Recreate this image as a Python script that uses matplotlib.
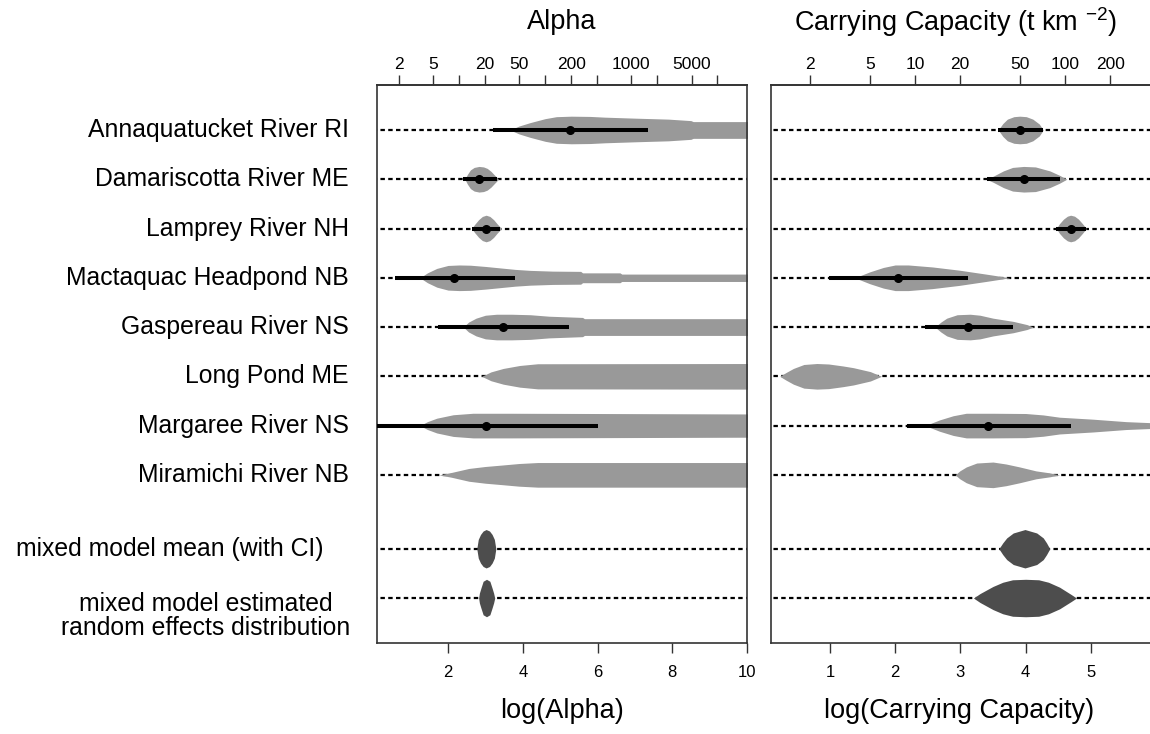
import numpy as np
import matplotlib.pyplot as plt

plt.rcParams['font.family'] = ['Liberation Sans', 'DejaVu Sans']
plt.rcParams['mathtext.fontset'] = 'custom'
plt.rcParams['mathtext.rm'] = 'Liberation Sans'
plt.rcParams['mathtext.it'] = 'Liberation Sans'

sites = ['Annaquatucket River RI', 'Damariscotta River ME', 'Lamprey River NH',
         'Mactaquac Headpond NB', 'Gaspereau River NS', 'Long Pond ME',
         'Margaree River NS', 'Miramichi River NB']
mixed_labels = ['mixed model mean (with CI)',
                'mixed model estimated\nrandom effects distribution']
row_y = [0, 1, 2, 3, 4, 5, 6, 7]
mixed_y = [8.5, 9.5]

# ---- log(Alpha) panel ----
alpha_med = [5.26, 2.83, 3.02, 2.16, 3.46, None, 3.01, None]
alpha_lo = [3.21, 2.41, 2.63, 0.58, 1.74, None, -1.0, None]
alpha_hi = [7.36, 3.31, 3.39, 3.79, 5.24, None, 6.02, None]
alpha_shape_x = [
    [3.66, 3.9, 4.2, 4.6, 4.9, 5.3, 5.8, 6.2, 7.0, 7.9, 8.5, 8.56, 10.5],
    [2.45, 2.52, 2.6, 2.7, 2.83, 2.95, 3.05, 3.15, 3.25, 3.35],
    [2.63, 2.72, 2.82, 2.92, 3.02, 3.12, 3.22, 3.32, 3.43],
    [1.25, 1.45, 1.7, 2.0, 2.3, 2.6, 3.0, 3.4, 3.8, 4.2, 4.8, 5.55, 5.6, 6.6, 6.65, 10.5],
    [2.41, 2.55, 2.75, 3.0, 3.3, 3.7, 4.2, 4.7, 5.6, 5.65, 10.5],
    [2.9, 3.15, 3.48, 3.92, 4.4, 10.5],
    [1.25, 1.45, 1.7, 2.14, 2.67, 3.64, 10.5],
    [1.76, 2.1, 2.56, 3.0, 3.46, 3.9, 4.4, 10.5],
]
alpha_shape_w = [
    [0, 0.08, 0.15, 0.23, 0.27, 0.28, 0.275, 0.26, 0.24, 0.22, 0.19, 0.17, 0.17],
    [0, 0.1, 0.19, 0.24, 0.26, 0.25, 0.22, 0.16, 0.08, 0],
    [0, 0.09, 0.18, 0.245, 0.27, 0.245, 0.18, 0.09, 0],
    [0, 0.1, 0.19, 0.25, 0.26, 0.255, 0.23, 0.2, 0.17, 0.15, 0.135, 0.13, 0.10, 0.10, 0.075, 0.075],
    [0, 0.1, 0.18, 0.24, 0.26, 0.26, 0.25, 0.22, 0.195, 0.17, 0.17],
    [0, 0.09, 0.16, 0.22, 0.255, 0.26],
    [0, 0.08, 0.15, 0.22, 0.25, 0.25, 0.235],
    [0, 0.05, 0.13, 0.17, 0.2, 0.23, 0.25, 0.25],
]
alpha_mixed_x = [
    [2.77, 2.81, 2.87, 2.94, 3.02, 3.11, 3.18, 3.24, 3.28],
    [2.82, 2.84, 2.88, 2.94, 3.03, 3.12, 3.18, 3.22, 3.25],
]
alpha_mixed_w = [
    [0, 0.19, 0.29, 0.36, 0.39, 0.36, 0.29, 0.19, 0],
    [0, 0.1, 0.2, 0.34, 0.38, 0.34, 0.2, 0.1, 0],
]
alpha_top_vals = [2, 5, 10, 20, 50, 100, 200, 400, 1000, 2000, 5000, 10000]
alpha_top_labels = ['2', '5', '', '20', '50', '', '200', '', '1000', '', '5000', '']
alpha_bottom_ticks = [2, 4, 6, 8, 10]

# ---- log(Carrying Capacity) panel ----
cap_med = [3.91, 3.97, 4.69, 2.05, 3.12, None, 3.43, None]
cap_lo = [3.58, 3.40, 4.47, 0.99, 2.46, None, 2.18, None]
cap_hi = [4.26, 4.52, 4.92, 3.12, 3.81, None, 4.70, None]
cap_shape_x = [
    [3.58, 3.65, 3.72, 3.82, 3.91, 4.01, 4.11, 4.21, 4.27],
    [3.40, 3.5, 3.66, 3.8, 3.97, 4.15, 4.37, 4.52, 4.63],
    [4.47, 4.52, 4.58, 4.64, 4.69, 4.75, 4.81, 4.87, 4.93],
    [1.38, 1.61, 1.82, 2.0, 2.2, 2.57, 2.98, 3.39, 3.76],
    [2.61, 2.7, 2.79, 2.95, 3.15, 3.3, 3.5, 3.81, 4.02, 4.12],
    [0.23, 0.33, 0.44, 0.6, 0.8, 0.98, 1.2, 1.36, 1.62, 1.79],
    [2.46, 2.68, 2.89, 3.09, 3.5, 4.0, 4.27, 4.52, 5.03, 5.54, 5.9, 6.1],
    [2.92, 2.99, 3.09, 3.25, 3.5, 3.7, 3.91, 4.16, 4.37, 4.52],
]
cap_shape_w = [
    [0, 0.13, 0.22, 0.27, 0.28, 0.27, 0.22, 0.12, 0],
    [0, 0.06, 0.17, 0.24, 0.26, 0.25, 0.17, 0.08, 0],
    [0, 0.1, 0.19, 0.25, 0.27, 0.25, 0.19, 0.1, 0],
    [0, 0.12, 0.21, 0.26, 0.26, 0.22, 0.155, 0.075, 0],
    [0, 0.1, 0.18, 0.25, 0.26, 0.24, 0.18, 0.115, 0.05, 0],
    [0, 0.08, 0.16, 0.24, 0.26, 0.25, 0.21, 0.175, 0.095, 0],
    [0, 0.115, 0.2, 0.25, 0.25, 0.245, 0.216, 0.17, 0.13, 0.08, 0.06, 0.05],
    [0, 0.08, 0.16, 0.24, 0.26, 0.22, 0.16, 0.08, 0.04, 0],
]
cap_mixed_x = [
    [3.59, 3.65, 3.71, 3.81, 3.99, 4.17, 4.27, 4.32, 4.37],
    [3.2, 3.3, 3.5, 3.65, 3.8, 4.0, 4.2, 4.35, 4.52, 4.7, 4.78],
]
cap_mixed_w = [
    [0, 0.12, 0.22, 0.32, 0.39, 0.32, 0.22, 0.12, 0],
    [0, 0.09, 0.235, 0.32, 0.37, 0.38, 0.37, 0.32, 0.22, 0.07, 0],
]
cap_top_vals = [2, 5, 10, 20, 50, 100, 200]
cap_top_labels = ['2', '5', '10', '20', '50', '100', '200']
cap_bottom_ticks = [1, 2, 3, 4, 5]

light = '#999999'
dark = '#4d4d4d'
frame = '#333333'

W, H = 1150, 734
fig = plt.figure(figsize=(W / 100, H / 100), dpi=100)
ax1 = fig.add_axes([377 / W, 1 - 643 / H, 370 / W, 558 / H])
ax2 = fig.add_axes([771 / W, 1 - 643 / H, 389 / W, 558 / H])


def draw_panel(ax, sx, sw, med, lo, hi, mx, mw, top_vals, top_labels, bticks):
    for i, y in enumerate(row_y + mixed_y):
        ax.plot([-5, 15], [y, y], color='black', lw=1.6, dashes=(2.0, 1.5), zorder=1)
    for i, y in enumerate(row_y):
        x = np.array(sx[i])
        w = np.array(sw[i])
        ax.fill_between(x, y - w, y + w, color=light, lw=0, zorder=2)
        if med[i] is not None:
            ax.plot([lo[i], hi[i]], [y, y], color='black', lw=2.9,
                    solid_capstyle='butt', zorder=3)
            ax.plot(med[i], y, 'o', color='black', ms=5.5, zorder=4)
    for i, y in enumerate(mixed_y):
        x = np.array(mx[i])
        w = np.array(mw[i])
        ax.fill_between(x, y - w, y + w, color=dark, lw=0, zorder=2)
    ax.set_ylim(9.5 + 0.913, -0.913)
    ax.set_yticks([])
    ax.set_xticks(bticks)
    ax.set_xticklabels([str(t) for t in bticks], fontsize=12)
    ax.tick_params(axis='x', direction='out', length=7, width=1, color=frame,
                   pad=9)
    for s in ax.spines.values():
        s.set_color(frame)
        s.set_linewidth(1.2)
    sec = ax.secondary_xaxis('top')
    sec.set_xticks(np.log(top_vals), labels=top_labels, fontsize=12.5)
    sec.tick_params(direction='out', length=7, width=1, color=frame, pad=2)
    sec.spines['top'].set_color(frame)
    sec.spines['top'].set_linewidth(1.2)


draw_panel(ax1, alpha_shape_x, alpha_shape_w, alpha_med, alpha_lo, alpha_hi,
           alpha_mixed_x, alpha_mixed_w, alpha_top_vals, alpha_top_labels,
           alpha_bottom_ticks)
ax1.set_xlim(0.1, 10)

draw_panel(ax2, cap_shape_x, cap_shape_w, cap_med, cap_lo, cap_hi,
           cap_mixed_x, cap_mixed_w, cap_top_vals, cap_top_labels,
           cap_bottom_ticks)
ax2.set_xlim(0.096, 6.06)
ax2.spines['right'].set_visible(False)

# row labels
lab_size = 17.8
for i, y in enumerate(row_y):
    ax1.text(-28 / 370, y, sites[i], transform=ax1.get_yaxis_transform(),
             ha='right', va='center', fontsize=lab_size)
ax1.text(-53 / 370, mixed_y[0], mixed_labels[0], transform=ax1.get_yaxis_transform(),
         ha='right', va='center', fontsize=lab_size)
ax1.text(-27 / 370, mixed_y[1] + 0.36, mixed_labels[1], transform=ax1.get_yaxis_transform(),
         ha='right', va='center', multialignment='center', fontsize=lab_size,
         linespacing=1.0)

fig.text(562 / W, 1 - 22 / H, 'Alpha', ha='center', va='center', fontsize=19.5)
fig.text(955 / W, 1 - 22 / H, 'Carrying Capacity (t km $^{-2}$)', ha='center',
         va='center', fontsize=19.5)
fig.text(562 / W, 1 - 711 / H, 'log(Alpha)', ha='center', va='center', fontsize=19.5)
fig.text(959 / W, 1 - 711 / H, 'log(Carrying Capacity)', ha='center', va='center',
         fontsize=19.5)

fig.savefig('out.png', dpi=100)
